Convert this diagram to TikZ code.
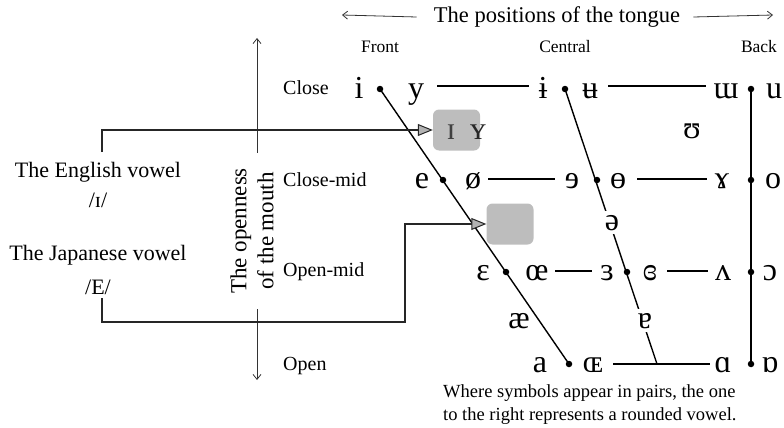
\documentclass[tikz,border=0pt]{standalone}
\usepackage{fontspec}
\setmainfont{Liberation Serif}
\usetikzlibrary{arrows.meta}

\begin{document}
\begin{tikzpicture}[x=1pt,y=-1pt,
  lbl/.style={font=\fontsize{22}{26}\selectfont, inner sep=1pt},
  hdr/.style={font=\fontsize{17.5}{20}\selectfont, inner sep=1pt},
  rowlbl/.style={font=\fontsize{20}{22}\selectfont, anchor=west, inner sep=0pt},
  sym/.style={font=\fontsize{32}{34}\selectfont, inner sep=0pt, anchor=base},
  onln/.style={sym, fill=white, inner sep=4pt},
  chart/.style={line width=1.4pt},
  vdot/.style={circle, fill=black, inner sep=0pt, minimum size=6.5pt},
  bracket/.style={line width=2.4pt, black!85,
    -{Triangle[length=15pt,width=12pt,fill=gray!60,line width=1pt]}},
  graybox/.style={fill=gray!60, fill opacity=0.85, rounded corners=6pt,
    minimum width=47pt, minimum height=41pt, inner sep=0pt},
  thinarrow/.style={line width=0.8pt, black!80, -{Straight Barb[length=5pt,width=8pt]}},
]
\useasboundingbox (0,0) rectangle (784,428);

% ---- tongue position axis ----
\node[font=\fontsize{22.5}{26}\selectfont, inner sep=1pt] (title) at (557,17) {The positions of the tongue};
\coordinate (tl) at (342,15);
\coordinate (tr) at (773,15);
\draw[thinarrow] (title.west) ++(-16,0) coordinate (tla) -- (tl);
\draw[thinarrow] (title.east) ++(12,0) coordinate (tra) -- (tr);

\node[hdr] (front) at (380,47) {Front};
\node[hdr] (central) at (565,47) {Central};
\node[hdr] (back) at (759,47) {Back};

% ---- openness axis ----
\coordinate (vtop) at (257,38);
\coordinate (vbot) at (257,380);
\draw[line width=0.8pt, black!80, {Straight Barb[length=5pt,width=8pt]}-{Straight Barb[length=5pt,width=8pt]}] (vtop) -- (vbot);
\node[rotate=90, fill=white, inner xsep=15pt, inner ysep=1pt, align=center,
      font=\fontsize{23}{27}\selectfont] (open) at (252,231) {The openness\\of the mouth};

\node[rowlbl] (rclose) at (283,88) {Close};
\node[rowlbl] (rcmid) at (283,180) {Close-mid};
\node[rowlbl] (romid) at (283,272) {Open-mid};
\node[rowlbl] (ropen) at (283,366) {Open};

% ---- vowel chart frame ----
\coordinate (F1) at (380,89);  \coordinate (F2) at (443,180);
\coordinate (F3) at (506,272); \coordinate (F4) at (569,364);
\coordinate (C1) at (565,89);  \coordinate (C2) at (597,180);
\coordinate (C3) at (627,272); \coordinate (C4) at (657,364);
\coordinate (B1) at (751,89);  \coordinate (B2) at (751,180);
\coordinate (B3) at (751,272); \coordinate (B4) at (751,364);

\draw[chart] (F1) -- (F4);
\draw[chart] (C1) -- (C4);
\draw[chart] (B1) -- (B4);

\coordinate (h1a) at (437,86);  \coordinate (h1b) at (529,86);
\coordinate (h1c) at (608,86);  \coordinate (h1d) at (706,86);
\coordinate (h2a) at (488,179); \coordinate (h2b) at (555,179);
\coordinate (h2c) at (637,179); \coordinate (h2d) at (707,179);
\coordinate (h3a) at (555,271); \coordinate (h3b) at (592,271);
\coordinate (h3c) at (667,271); \coordinate (h3d) at (708,271);
\coordinate (h4a) at (613,364); \coordinate (h4b) at (710,364);
\draw[chart] (h1a) -- (h1b);
\draw[chart] (h1c) -- (h1d);
\draw[chart] (h2a) -- (h2b);
\draw[chart] (h2c) -- (h2d);
\draw[chart] (h3a) -- (h3b);
\draw[chart] (h3c) -- (h3d);
\draw[chart] (h4a) -- (h4b);

\foreach \p in {F1,F2,F3,F4,C1,C2,C3,B1,B2,B3,B4}
  \node[vdot] at (\p) {};

% ---- vowel symbols ----
\node[sym] (v-i)  at (359,98) {i};
\node[sym] (v-y)  at (416,98) {y};
\node[sym] (v-bi) at (543,98) {ɨ};
\node[sym] (v-bu) at (590,98) {ʉ};
\node[sym] (v-mw) at (726,98) {ɯ};
\node[sym] (v-u)  at (774,98) {u};

\node[sym] (v-e)  at (422,188) {e};
\node[sym] (v-oe) at (473,188) {ø};
\node[sym] (v-re) at (572,188) {ɘ};
\node[sym] (v-bo) at (618,188) {ɵ};
\node[sym] (v-ga) at (722,188) {ɤ};
\node[sym] (v-o)  at (773,188) {o};

\node[sym] (v-eps) at (483,280) {ɛ};
\node[sym] (v-oel) at (537,280) {œ};
\node[sym] (v-rep) at (607,280) {ɜ};
\node[sym] (v-cre) at (650,280) {ɞ};
\node[sym] (v-wv)  at (723,280) {ʌ};
\node[sym] (v-oo)  at (770,280) {ɔ};

\node[sym] (v-a)  at (540,372) {a};
\node[sym] (v-OE) at (593,372) {ɶ};
\node[sym] (v-al) at (723,372) {ɑ};
\node[sym] (v-ta) at (770,372) {ɒ};

\node[sym] (v-hu) at (692,138) {ʊ};
\node[onln] (v-sw) at (612,230) {ə};
\node[sym] (v-ae) at (519,328) {æ};
\node[onln] (v-ta2) at (645,328) {ɐ};

% ---- highlight boxes, with the English pair shown through ----
\node[graybox] (boxE) at (456.5,130) {};
\node[graybox] (boxJ) at (510,224) {};
\node[sym, black!75] (v-ii) at (451,139) {ɪ};
\node[sym, black!85] (v-yy) at (478,139) {ʏ};

% ---- learner vowels ----
\node[lbl] (eng)  at (98,172) {The English vowel};
\node[lbl] (engv) at (98,200) {/ɪ/};
\node[lbl] (jap)  at (98,255) {The Japanese vowel};
\node[lbl] (japv) at (98,287) {/E/};

\coordinate (e0) at (102,152);
\draw[bracket] (e0) |- (boxE.west);
\coordinate (j0) at (102,298);
\coordinate (j1) at (405,322);
\draw[bracket] (j0) |- (j1) |- (boxJ.west);

% ---- footnote ----
\node[anchor=north west, align=left, inner sep=0pt,
      font=\fontsize{18.5}{23}\selectfont] (note) at (443,384)
  {Where symbols appear in pairs, the one\\to the right represents a rounded vowel.};
\end{tikzpicture}
\end{document}
